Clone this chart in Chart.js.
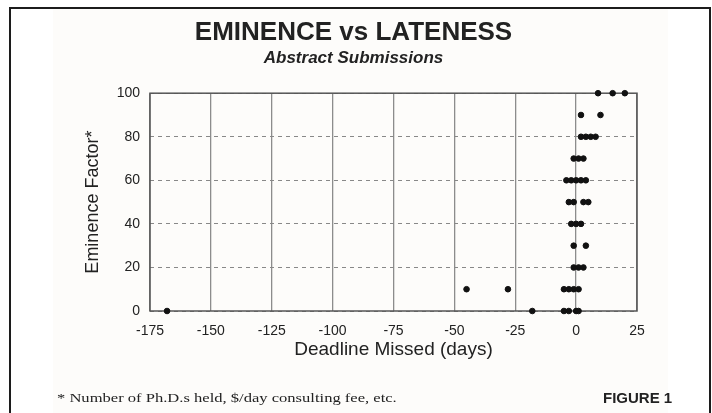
<!DOCTYPE html>
<html>
<head>
<meta charset="utf-8">
<script src="https://cdn.jsdelivr.net/npm/chart.js@4"></script>
<style>
  body { margin: 0; background: #fff; }
  #wrap { position: relative; width: 712px; height: 413px; overflow: hidden; }
  #frame { position: absolute; left: 9px; top: 7px; width: 698px; height: 420px;
           border-top: 2px solid #1c1c1c; border-left: 2px solid #1c1c1c; border-right: 2px solid #1c1c1c; }
  #note { position: absolute; left: 57px; top: 390px; font: 13px "Liberation Serif", serif; color: #222;
          white-space: nowrap; transform-origin: 0 0; }
  #fig { position: absolute; left: 603px; top: 389px; font: bold 15px "Liberation Sans", Arial, sans-serif; color: #222;
         white-space: nowrap; }
</style>
</head>
<body>
<div id="wrap">
  <canvas id="chart" width="712" height="413"></canvas>
  <div id="frame"></div>
  <div id="note">* Number of Ph.D.s held, $/day consulting fee, etc.</div>
  <div id="fig">FIGURE 1</div>
</div>
<script>
// Days late (negative = early) and eminence factor for each submission
const daysLate = [
    9, 15, 20,
    2, 10,
    2, 4, 6, 8,
    -1, 1, 3,
    -4, -2, 0, 2, 4,
    -3, -1, 3, 5,
    -2, 0, 2,
    -1, 4,
    -1, 1, 3,
    -45, -28, -5, -3, -1, 1,
    -168, -18, -5, -3, 0, 1
];
const eminence = [
    100, 100, 100,
    90, 90,
    80, 80, 80, 80,
    70, 70, 70,
    60, 60, 60, 60, 60,
    50, 50, 50, 50,
    40, 40, 40,
    30, 30,
    20, 20, 20,
    10, 10, 10, 10, 10, 10,
    0, 0, 0, 0, 0, 0
];
const xTicks = [-175, -150, -125, -100, -75, -50, -25, 0, 25];
const yTicks = [0, 20, 40, 60, 80, 100];

const points = daysLate.map((d, i) => ({ x: d, y: eminence[i] }));

// Off-white paper behind the chart
const paper = {
    id: 'paper',
    beforeDraw(chart) {
        const ctx = chart.ctx;
        ctx.save();
        ctx.fillStyle = '#fdfcfa';
        ctx.fillRect(53, 8, 615, 405);
        ctx.restore();
    }
};

// Solid box round the plot area
const plotBox = {
    id: 'plotBox',
    beforeDatasetsDraw(chart) {
        const { ctx, chartArea: a } = chart;
        ctx.save();
        ctx.strokeStyle = '#555';
        ctx.lineWidth = 1.5;
        ctx.strokeRect(a.left, a.top, a.right - a.left, a.bottom - a.top);
        ctx.restore();
    }
};

new Chart(document.getElementById('chart'), {
    type: 'scatter',
    data: {
        datasets: [{
            data: points,
            backgroundColor: '#111',
            borderColor: '#111',
            pointRadius: 2.8,
            pointHoverRadius: 2.8,
            clip: false
        }]
    },
    plugins: [paper, plotBox],
    options: {
        responsive: false,
        animation: false,
        layout: { padding: { left: 70, right: 75, top: 17, bottom: 47 } },
        plugins: {
            legend: { display: false },
            tooltip: { enabled: false },
            title: {
                display: true,
                text: 'EMINENCE vs LATENESS',
                color: '#222',
                font: { family: 'Liberation Sans, Arial, sans-serif', size: 26, weight: 'bold', lineHeight: 1.2 },
                padding: { top: 0, bottom: 2 }
            },
            subtitle: {
                display: true,
                text: 'Abstract Submissions',
                color: '#222',
                font: { family: 'Liberation Sans, Arial, sans-serif', size: 17, weight: 'bold', style: 'italic', lineHeight: 1.0 },
                padding: { top: 0, bottom: 26 }
            }
        },
        scales: {
            x: {
                type: 'linear',
                min: -175,
                max: 25,
                afterFit(scale) { scale.height = 55; },
                afterBuildTicks(scale) { scale.ticks = xTicks.map(v => ({ value: v })); },
                grid: { color: '#8c8c8c', lineWidth: 1.3, drawTicks: false },
                border: { display: false },
                ticks: {
                    padding: 12,
                    color: '#222',
                    font: { family: 'Liberation Sans, Arial, sans-serif', size: 14 }
                },
                title: {
                    display: true,
                    text: 'Deadline Missed (days)',
                    color: '#222',
                    font: { family: 'Liberation Sans, Arial, sans-serif', size: 19 },
                    padding: { top: 0, bottom: 5 }
                }
            },
            y: {
                min: 0,
                max: 100,
                afterFit(scale) { scale.width = 80; },
                afterBuildTicks(scale) { scale.ticks = yTicks.map(v => ({ value: v })); },
                grid: { color: '#888', lineWidth: 1, drawTicks: false },
                border: { display: false, dash: [4, 4] },
                ticks: {
                    padding: 10,
                    color: '#222',
                    font: { family: 'Liberation Sans, Arial, sans-serif', size: 14 }
                },
                title: {
                    display: true,
                    text: 'Eminence Factor*',
                    color: '#222',
                    font: { family: 'Liberation Sans, Arial, sans-serif', size: 18 },
                    padding: { top: 12, bottom: 0 }
                }
            }
        }
    }
});

// stretch the footnote to the width it has in the figure
const note = document.getElementById('note');
note.style.transform = 'scaleX(' + (340 / note.offsetWidth) + ')';
</script>
</body>
</html>
